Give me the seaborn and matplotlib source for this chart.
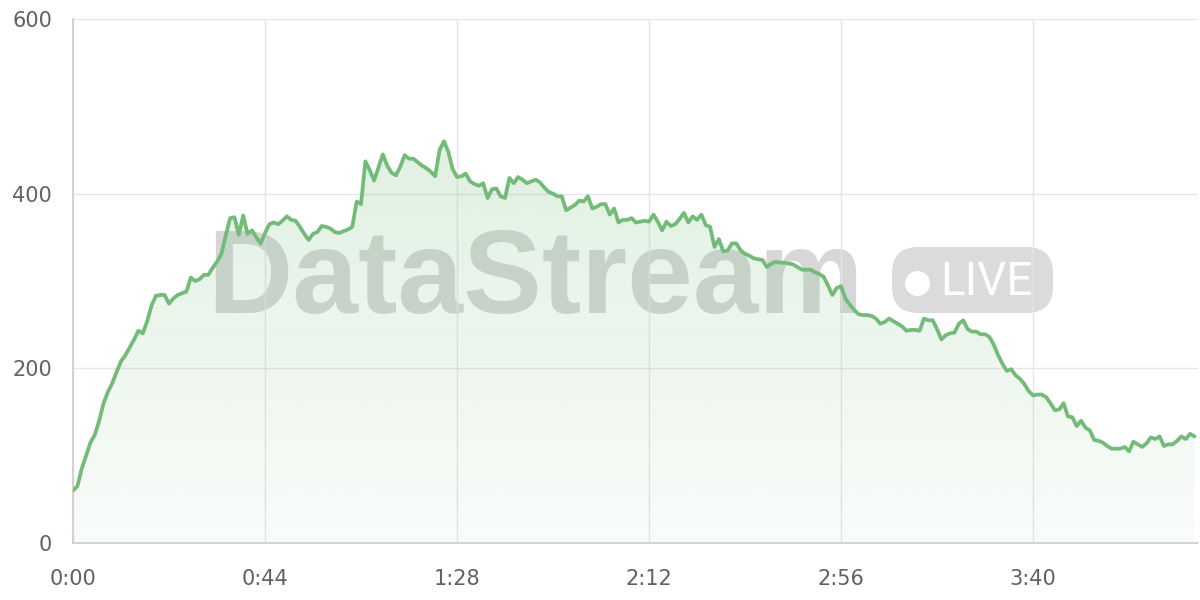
import numpy as np
import pandas as pd
import matplotlib
matplotlib.use("Agg")
import matplotlib.pyplot as plt
from matplotlib.patches import FancyBboxPatch
import seaborn as sns

# DATA - one reading per second

viewers = [
    60, 65, 85, 100, 115, 124, 140, 160, 173, 183,
    196, 208, 215, 224, 233, 243, 240, 254, 272, 283,
    284, 284, 274, 280, 284, 286, 288, 304, 300, 302,
    307, 307, 315, 322, 331, 352, 372, 373, 353, 375,
    354, 358, 350, 343, 355, 365, 367, 365, 369, 374,
    370, 369, 362, 354, 347, 354, 356, 363, 362, 360,
    356, 355, 357, 359, 362, 391, 388, 437, 427, 415,
    430, 445, 432, 424, 421, 431, 444, 440, 440, 436,
    432, 429, 425, 420, 450, 460, 448, 428, 419, 420,
    423, 414, 411, 409, 412, 395, 405, 406, 397, 395,
    418, 412, 419, 416, 412, 414, 416, 413, 407, 402,
    400, 397, 397, 381, 384, 387, 392, 391, 397, 383,
    385, 388, 388, 376, 383, 367, 370, 370, 372, 367,
    368, 369, 368, 376, 368, 358, 368, 363, 365, 371,
    378, 367, 374, 370, 376, 364, 362, 339, 348, 334,
    335, 343, 343, 335, 331, 329, 326, 325, 324, 316,
    320, 322, 321, 321, 320, 319, 316, 313, 313, 313,
    310, 308, 305, 295, 284, 292, 294, 280, 273, 267,
    262, 261, 261, 260, 257, 251, 253, 257, 254, 251,
    248, 243, 244, 244, 243, 257, 255, 255, 245, 233,
    238, 240, 241, 251, 255, 245, 242, 242, 239, 239,
    236, 227, 215, 205, 197, 199, 192, 188, 182, 174,
    169, 170, 170, 167, 160, 152, 153, 160, 145, 144,
    134, 140, 132, 129, 118, 117, 115, 111, 108, 108,
    108, 110, 105, 116, 113, 110, 114, 121, 119, 122,
    111, 113, 113, 117, 122, 119, 125, 122,
]

x_ticks = [0, 44, 88, 132, 176, 220]
x_tick_labels = ["0:00", "0:44", "1:28", "2:12", "2:56", "3:40"]
y_ticks = [0, 200, 400, 600]

line_color = "#72bb78"
grid_color = "#e6e6e6"
text_color = "#616161"

df = pd.DataFrame({"second": np.arange(len(viewers)), "viewers": viewers})

sns.set_theme(style="whitegrid")
plt.rcParams["font.family"] = ["DejaVu Sans"]

fig = plt.figure(figsize=(12, 6), dpi=100)
fig.patch.set_facecolor("white")
ax = fig.add_axes([73 / 1200, 1 - 543 / 600, 1125 / 1200, 524 / 600])
ax.set_facecolor("none")

# watermark, drawn behind the axes so the fill tints it
fig.text(207 / 1200, 1 - 313 / 600, "DataStream", fontsize=85, fontweight="bold",
         family=["Liberation Sans", "DejaVu Sans"], color="#bdbdbd", alpha=0.6,
         ha="left", va="baseline", zorder=-5)
badge = FancyBboxPatch((892 / 1200, 1 - 313 / 600), 161 / 1200, 66 / 600,
                       boxstyle="round,pad=0,rounding_size=0.022",
                       mutation_aspect=2.0, transform=fig.transFigure,
                       facecolor="#d5d5d5", alpha=0.85, edgecolor="none", zorder=-5)
fig.patches.append(badge)
fig.lines.append(plt.Line2D([916.5 / 1200], [1 - 283.5 / 600], marker="o", markersize=17,
                            linestyle="none", color="white", transform=fig.transFigure,
                            zorder=-4))
fig.text(940 / 1200, 1 - 295 / 600, "LIVE", fontsize=33, color="white",
         family=["Roboto", "DejaVu Sans"],
         ha="left", va="baseline", zorder=-4)

# gradient fill under the line
x = df["second"].to_numpy()
y = df["viewers"].to_numpy()
poly = ax.fill_between(x, y, 0, color="none", lw=0)
top = max(viewers)
rgba = np.zeros((256, 1, 4))
rgba[..., 0] = 0x72 / 255
rgba[..., 1] = 0xbb / 255
rgba[..., 2] = 0x78 / 255
rgba[..., 3] = np.linspace(0.04, 0.22, 256).reshape(-1, 1)
img = ax.imshow(rgba, extent=[x[0], x[-1], 0, top], origin="lower",
                aspect="auto", zorder=1)
img.set_clip_path(poly.get_paths()[0], transform=ax.transData)

sns.lineplot(data=df, x="second", y="viewers", ax=ax, color=line_color,
             linewidth=2.7, zorder=3)

ax.set_xlim(0, 257.8)
ax.set_ylim(0, 600)
ax.set_xticks(x_ticks)
ax.set_xticklabels(x_tick_labels)
ax.set_yticks(y_ticks)
ax.set_xlabel("")
ax.set_ylabel("")

ax.grid(True, color=grid_color, linewidth=1.0)
ax.set_axisbelow(True)
for side in ["top", "right"]:
    ax.spines[side].set_visible(False)
for side in ["left", "bottom"]:
    ax.spines[side].set_visible(True)
    ax.spines[side].set_color("#cccccc")
    ax.spines[side].set_linewidth(1.2)

ax.tick_params(axis="both", length=11, width=1.0, color=grid_color,
               labelsize=15, labelcolor=text_color)
ax.tick_params(axis="y", pad=4)
ax.tick_params(axis="x", pad=8)

fig.savefig("out.png", dpi=100, facecolor="white")
